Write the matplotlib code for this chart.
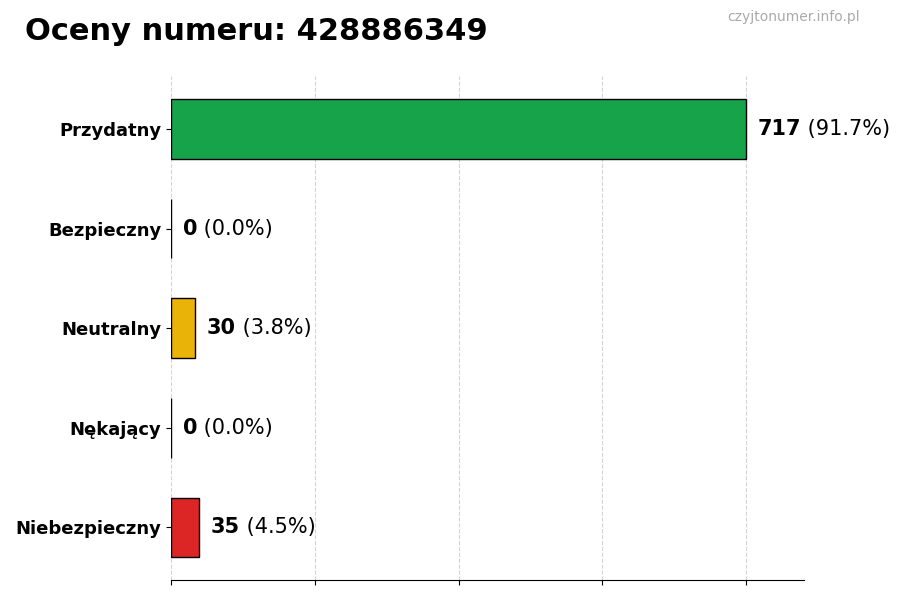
import matplotlib
matplotlib.use("Agg")
import matplotlib.pyplot as plt
import numpy as np

# ratings for the number
categories = ["Przydatny", "Bezpieczny", "Neutralny", "Nękający", "Niebezpieczny"]
counts = [717, 0, 30, 0, 35]
colors = ["#16a34a", "#9ca3af", "#eab308", "#f97316", "#dc2626"]
title = "Oceny numeru: 428886349"
watermark = "czyjtonumer.info.pl"

total = sum(counts)
max_val = max(counts)

fig = plt.figure(figsize=(9, 6), dpi=100)
ax = fig.add_axes([0.19, 0.033, 0.703, 0.84])

y = np.arange(len(categories))
ax.barh(y, counts, height=0.6, color=colors, edgecolor="black", linewidth=1, zorder=3)
ax.invert_yaxis()
ax.set_yticks(y)
ax.set_yticklabels(categories, fontsize=13, fontweight="bold")

ax.set_xlim(0, max_val * 1.1)
ax.set_xticks(np.linspace(0, max_val, 5))
ax.set_xticklabels([])
ax.grid(axis="x", linestyle="--", color="#d4d4d4", linewidth=0.8, zorder=0)

for side in ["top", "right", "left"]:
    ax.spines[side].set_visible(False)

# value labels: bold count + normal percentage
for i, c in enumerate(counts):
    pct = c / total * 100
    t = ax.text(c + max_val * 0.02, i, str(c), va="center", ha="left",
                fontsize=15, fontweight="bold")
    ax.annotate(" (%.1f%%)" % pct, xy=(1, 0.5), xycoords=t, va="center",
                ha="left", fontsize=15)

fig.text(0.028, 0.948, title, fontsize=22, fontweight="bold", va="center")
fig.text(0.955, 0.971, watermark, fontsize=10, color="#aaaaaa",
         ha="right", va="center")

fig.savefig("out.png", dpi=100)
